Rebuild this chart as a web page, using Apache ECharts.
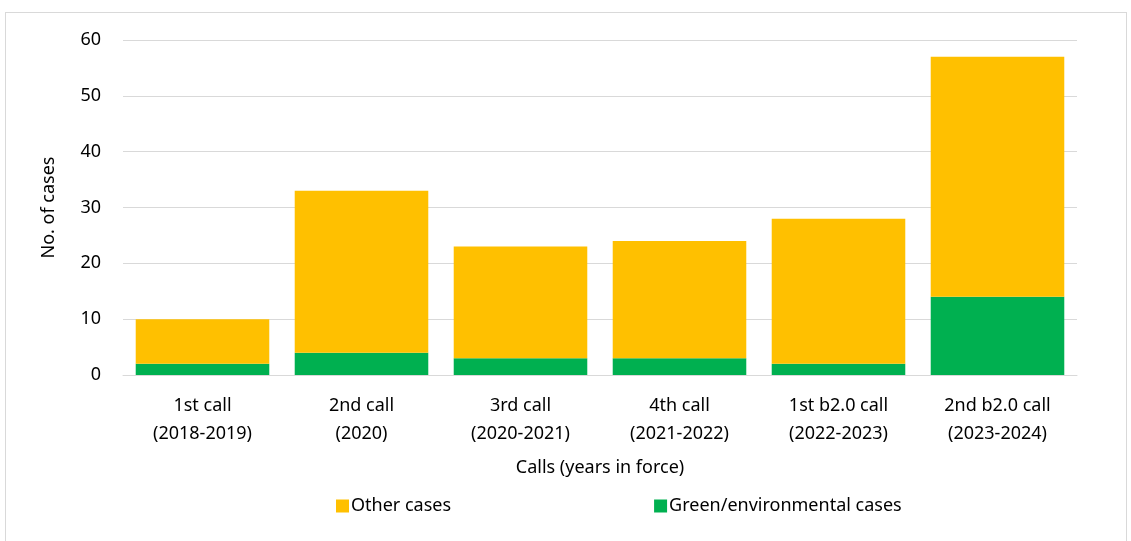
<!DOCTYPE html>
<html>
<head>
<meta charset="utf-8">
<script src="https://cdn.jsdelivr.net/npm/echarts@6/dist/echarts.min.js"></script>
<style>
html,body{margin:0;padding:0;background:#fff;}
#frame{position:absolute;left:5px;top:12px;width:1122px;height:540px;border:1px solid #d9d9d9;box-sizing:border-box;}
#chart{position:absolute;left:0;top:0;width:1131px;height:541px;}
</style>
</head>
<body>
<div id="frame"></div>
<div id="chart"></div>
<script>
const categories = ["1st call\n(2018-2019)", "2nd call\n(2020)", "3rd call\n(2020-2021)", "4th call\n(2021-2022)", "1st b2.0 call\n(2022-2023)", "2nd b2.0 call\n(2023-2024)"];
const greenCases = [2, 4, 3, 3, 2, 14];
const otherCases = [8, 29, 20, 21, 26, 43];
const seriesNames = ["Other cases", "Green/environmental cases"];

const font = "'Noto Sans', 'Open Sans', sans-serif";
const chart = echarts.init(document.getElementById('chart'));
chart.setOption({
  animation: false,
  textStyle: { fontFamily: font },
  grid: { left: 123, right: 54, top: 40, bottom: 166 },
  legend: {
    left: 331, top: 492,
    itemWidth: 13, itemHeight: 13, itemGap: 203,
    icon: 'rect',
    textStyle: { fontFamily: font, fontSize: 18, color: '#000', padding: [0, 0, 0, -3] },
    data: seriesNames
  },
  xAxis: {
    type: 'category',
    data: categories,
    name: 'Calls (years in force)',
    nameLocation: 'middle',
    nameGap: 84,
    nameTextStyle: { fontFamily: font, fontSize: 18, color: '#000' },
    axisLine: { lineStyle: { color: '#d9d9d9' } },
    axisTick: { show: false },
    axisLabel: { fontFamily: font, fontSize: 18, color: '#000', lineHeight: 28, margin: 17 }
  },
  yAxis: {
    type: 'value',
    min: 0, max: 60, interval: 10,
    name: 'No. of cases',
    nameLocation: 'middle',
    nameGap: 65,
    nameRotate: 90,
    nameTextStyle: { fontFamily: font, fontSize: 18, color: '#000' },
    axisLine: { show: false },
    axisTick: { show: false },
    splitLine: { lineStyle: { color: '#d9d9d9', width: 1 } },
    axisLabel: { fontFamily: font, fontSize: 18, color: '#000', margin: 22 }
  },
  series: [
    { name: seriesNames[1], type: 'bar', stack: 'a', data: greenCases, barCategoryGap: '16%', itemStyle: { color: '#00B050' } },
    { name: seriesNames[0], type: 'bar', stack: 'a', data: otherCases, barCategoryGap: '16%', itemStyle: { color: '#FFC000' } }
  ]
});
</script>
</body>
</html>
